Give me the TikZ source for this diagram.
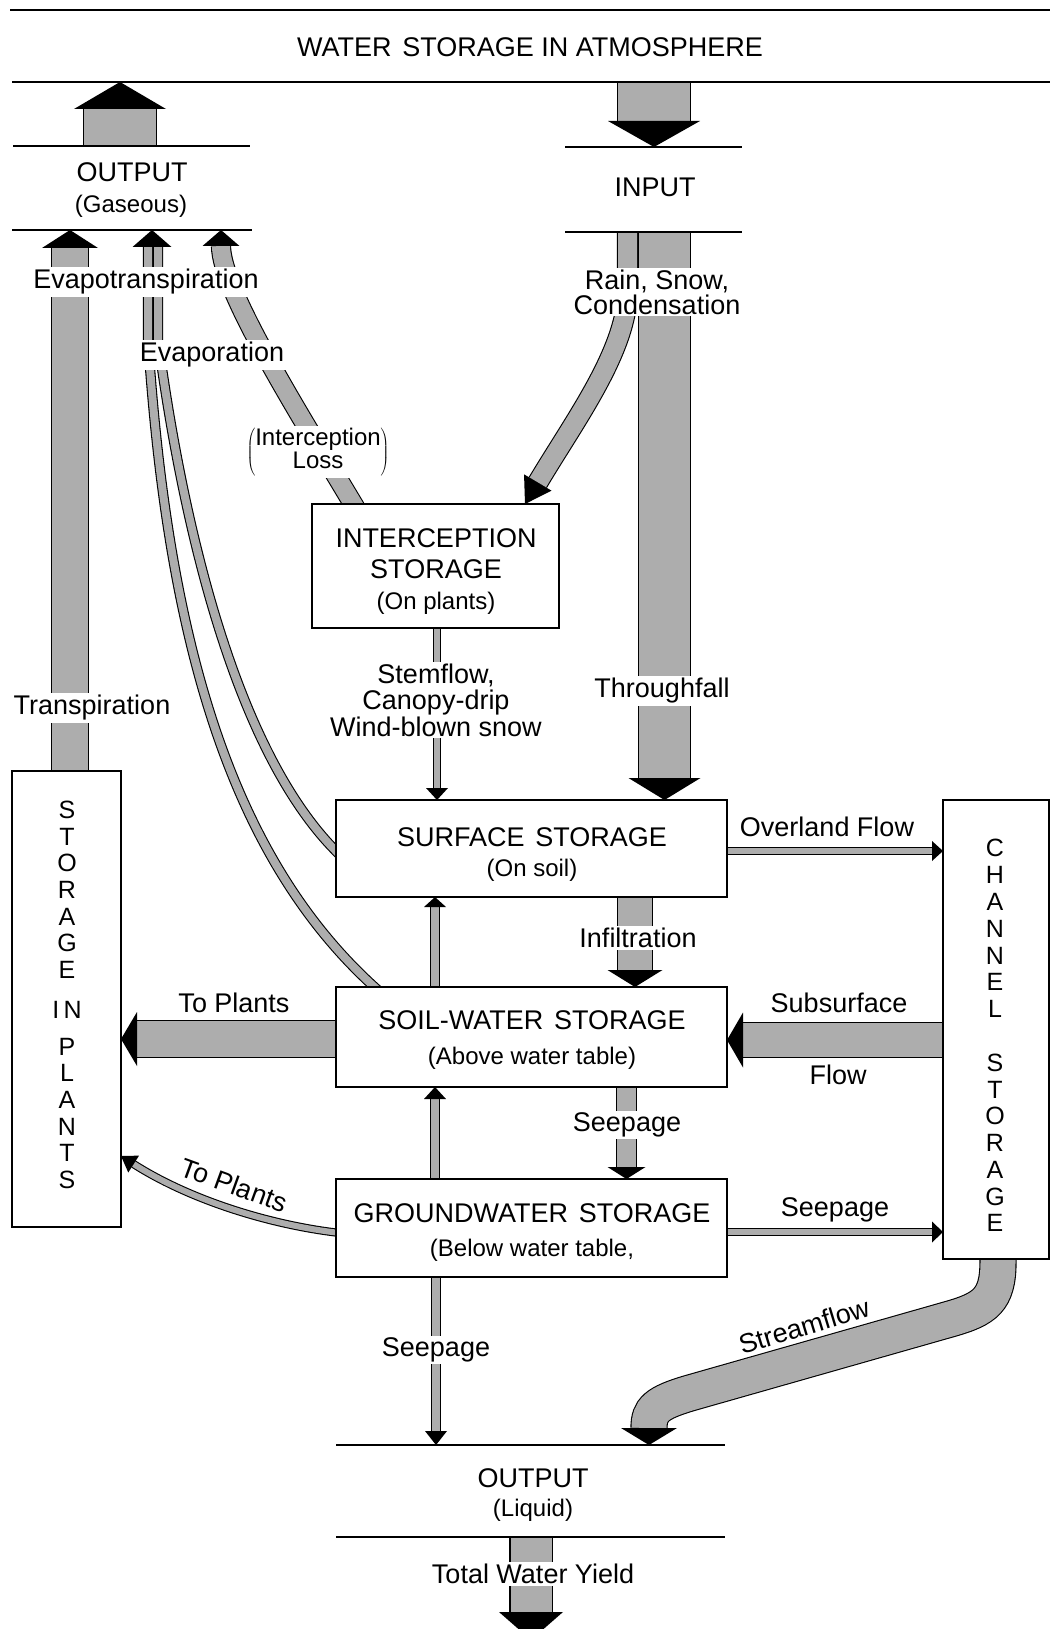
\documentclass[tikz,border=0pt]{standalone}
\usepackage{fontspec}
\setmainfont{Liberation Sans}
\usetikzlibrary{calc,backgrounds}
\definecolor{stip}{gray}{0.68}
\newcommand\fzT{\fontsize{27}{30}\selectfont}
\newcommand\fzL{\fontsize{27}{27}\selectfont}
\newcommand\fzS{\fontsize{24}{27}\selectfont}
\newcommand\fzV{\fontsize{25}{27}\selectfont}
\newcommand\fathead[4]{%
  \path ($(#1)!#3!(#2)$) coordinate (fhb);
  \fill ($(fhb)!#4!90:(#1)$) -- (#1) -- ($(fhb)!#4!-90:(#1)$) -- cycle;}
\begin{document}
\begin{tikzpicture}[x=1pt,y=-1pt,
  band/.style={draw=black,line width=1.1pt,double=stip,double distance=#1},
  hline/.style={line width=2.2pt},
  box/.style={draw,line width=1.5pt,fill=white,inner sep=0pt,outer sep=0pt},
  lbl/.style={font=\fzL,inner sep=1pt},
  cut/.style={lbl,fill=white,inner sep=2pt},
  subt/.style={font=\fzS,inner sep=1pt},
  ttl/.style={font=\fzT,inner sep=1pt},
  vl/.style={font=\fzV,inner sep=0pt}]
\useasboundingbox (0,0) rectangle (1052,1629);
% ---------------- boxes
\node[box,minimum width=247pt,minimum height=124pt] (intc) at (435.5,566) {};
\node[box,minimum width=391pt,minimum height=97pt] (surf) at (531.5,848.5) {};
\node[box,minimum width=391pt,minimum height=100pt] (soil) at (531.5,1037) {};
\node[box,minimum width=391pt,minimum height=98pt] (gw) at (531.5,1228) {};
\node[box,minimum width=109pt,minimum height=456pt] (plants) at (66.5,999) {};
\node[box,minimum width=106pt,minimum height=459pt] (chan) at (996,1029.5) {};
% ---------------- horizontal rules
\coordinate (a1) at (10,10);   \coordinate (a2) at (1050,10);
\coordinate (b1) at (12,82);   \coordinate (b2) at (1050,82);
\coordinate (g1) at (13,146);  \coordinate (g2) at (250,146);
\coordinate (h1) at (12,230);  \coordinate (h2) at (252,230);
\coordinate (i1) at (565,147); \coordinate (i2) at (742,147);
\coordinate (j1) at (565,232); \coordinate (j2) at (742,232);
\coordinate (o1) at (336,1445); \coordinate (o2) at (725,1445);
\coordinate (p1) at (336,1537); \coordinate (p2) at (725,1537);
\foreach \u/\v in {a1/a2,b1/b2,g1/g2,h1/h2,i1/i2,j1/j2,o1/o2,p1/p2}
  \draw[hline] (\u) -- (\v);
% ---------------- texts
\node[ttl] (tit) at (530,47) {WATER\hspace{0.4em}STORAGE IN ATMOSPHERE};
\node[ttl] (outg) at (132,172) {OUTPUT};
\node[subt] (gas) at (131,206) {(Gaseous)};
\node[ttl] (inp) at (655,187) {INPUT};
\node[cut] (et) at (146,282) {Evapotranspiration};
\node[cut] (ev) at (212,355) {Evaporation};
\node[cut,font={\fontsize{24}{23}\selectfont}] (il) at (318,452)
  {$\left(\vcenter{\hbox{\begin{tabular}{@{}c@{}}Interception\\Loss\end{tabular}}}\right)$};
\node[cut,align=center,font={\fontsize{27}{25}\selectfont}] (rain) at (657,292) {Rain, Snow,\\Condensation};
\node[ttl] (ic1) at (436,538) {INTERCEPTION};
\node[ttl] (ic2) at (436,569) {STORAGE};
\node[subt] (ic3) at (436,603) {(On plants)};
\node[cut,align=center,font={\fontsize{27}{26.5}\selectfont}] (stem) at (436,700) {Stemflow,\\Canopy-drip\\Wind-blown snow};
\node[cut] (thr) at (662,691) {Throughfall};
\node[cut] (tra) at (92,708) {Transpiration};
\node[ttl] (sf1) at (532,837) {SURFACE\hspace{0.4em}STORAGE};
\node[subt] (sf2) at (532,870) {(On soil)};
\node[lbl] (ovl) at (827,827) {Overland Flow};
\node[cut] (inf) at (638,938) {Infiltration};
\node[ttl] (sw1) at (532,1020) {SOIL-WATER\hspace{0.4em}STORAGE};
\node[subt] (sw2) at (532,1058) {(Above water table)};
\node[lbl] (tp1) at (234,1003) {To Plants};
\node[lbl] (ssf) at (839,1003) {Subsurface};
\node[lbl] (flw) at (838,1075) {Flow};
\node[cut] (sp1) at (627,1125) {Seepage};
\node[lbl,rotate=-20] (tp2) at (234,1185) {To Plants};
\node[ttl] (gw1) at (532,1213) {GROUNDWATER\hspace{0.4em}STORAGE};
\node[subt] (gw2) at (532,1250) {(Below water table,};
\node[lbl] (sp2) at (835,1210) {Seepage};
\node[cut] (sp3) at (436,1350) {Seepage};
\node[lbl,rotate=17] (str) at (804,1326) {Streamflow};
\node[ttl] (outl) at (533,1478) {OUTPUT};
\node[subt] (liq) at (533,1510) {(Liquid)};
\node[cut] (twy) at (533,1574) {Total Water Yield};
% vertical lettering
\foreach \ltr/\yy in {S/810,T/837,O/863,R/890,A/917,G/943,E/970,P/1047,L/1073,A/1100,N/1127,T/1153,S/1180}
  \node[vl] (pl\yy) at (67,\yy) {\ltr};
\node[vl] (plIN) at (67,1010) {I\,N};
\foreach \ltr/\yy in {C/848,H/875,A/902,N/929,N/956,E/982,L/1009,S/1063,T/1090,O/1116,R/1143,A/1170,G/1197,E/1223}
  \node[vl] (ch\yy) at (995,\yy) {\ltr};
% ---------------- arrow tips
\coordinate (tGas) at (120,0 |- b1);
\coordinate (tIn) at (654,0 |- i1);
\coordinate (tET) at (70,0 |- h1);
\coordinate (tEv) at (152,0 |- h1);
\coordinate (tIL) at (221,0 |- h1);
\coordinate (tRain) at (525,0 |- intc.north);
\coordinate (tThru) at (664.5,0 |- surf.north);
\coordinate (tStem) at (437,0 |- surf.north);
\coordinate (tOver) at (chan.west |- 0,851);
\coordinate (tInf) at (635,0 |- soil.north);
\coordinate (tUp1) at (435,0 |- surf.south);
\coordinate (tUp2) at (435,0 |- soil.south);
\coordinate (tSub) at (soil.east |- 0,1040);
\coordinate (tTP1) at (plants.east |- 0,1039);
\coordinate (tSp1) at (626.5,0 |- gw.north);
\coordinate (tSp2) at (chan.west |- 0,1232);
\coordinate (tTP2) at (plants.east |- 0,1156);
\coordinate (tSp3) at (436,0 |- o1);
\coordinate (tStr) at (649,0 |- o1);
\coordinate (tTot) at (531,1640);
\coordinate (evO) at ($(soil.north west)+(44,5)$);
\coordinate (evI) at ($(surf.west)+(5,7.5)$);
\coordinate (ilS) at ($(intc.north)+(-80,4)$);
% ---------------- bands
\begin{scope}[on background layer]
\fill[white] (0,0) rectangle (1052,1629);
\draw[band=72pt,shorten >=27pt] (120,0 |- g1) -- (tGas);
\draw[band=72pt,shorten >=26pt] (654,0 |- b1) -- (tIn);
\draw[band=36pt,shorten >=18pt] (70,0 |- plants.north) -- (tET);
\draw[band=8pt] ($(tEv)+(-4,17)$) -- (148,340) .. controls (168,640) and (230,860) .. (evO);
\draw[band=8pt] ($(tEv)+(6,17)$) -- (158,340) .. controls (185,540) and (240,760) .. (evI);
\draw[band=18pt] (ilS) .. controls (300,415) and (221,290) .. ($(tIL)+(0,16)$);
\draw[band=19pt] (627.5,0 |- j1) -- (627.5,290) .. controls (627.5,350) and (575,420) .. ($(tRain)!25pt!(575,420)$);
\draw[band=51pt,shorten >=22pt] (664.5,0 |- j1) -- (tThru);
\draw[band=6pt,shorten >=12pt] (437,0 |- intc.south) -- (tStem);
\draw[band=6pt,shorten >=11pt] (surf.east |- 0,851) -- (tOver);
\draw[band=34pt,shorten >=17pt] (635,0 |- surf.south) -- (tInf);
\draw[band=8pt,shorten >=10pt] (435,0 |- soil.north) -- (tUp1);
\draw[band=8pt,shorten >=12pt] (435,0 |- gw.north) -- (tUp2);
\draw[band=34pt,shorten >=16pt] (chan.west |- 0,1040) -- (tSub);
\draw[band=36pt,shorten >=16pt] (soil.west |- 0,1039) -- (tTP1);
\draw[band=19pt,shorten >=12pt] (626.5,0 |- soil.south) -- (tSp1);
\draw[band=6pt,shorten >=11pt] (gw.east |- 0,1232) -- (tSp2);
\draw[band=6pt] ($(gw.west)+(4,5)$) .. controls (270,1225) and (190,1200) .. ($(tTP2)!15pt!(190,1200)$);
\draw[band=8pt,shorten >=14pt] (436,0 |- gw.south) -- (tSp3);
\draw[band=35pt] (998,0 |- chan.south) -- (998,1262) .. controls (998,1300) and (985,1309) .. (950,1319)
   -- (690,1393) .. controls (656,1403) and (649,1410) .. ($(tStr)+(0,-17)$);
\draw[band=41pt,shorten >=28pt] (531,0 |- p1) -- (tTot);
\end{scope}
% ---------------- arrow heads
\fathead{tGas}{120,200}{27pt}{46pt}
\fathead{tIn}{654,0}{26pt}{46pt}
\fathead{tET}{70,500}{18pt}{28pt}
\fathead{tEv}{152,500}{17pt}{19.5pt}
\fathead{tIL}{221,500}{16pt}{18.5pt}
\fathead{tRain}{575,420}{25pt}{16pt}
\fathead{tThru}{664.5,300}{22pt}{36pt}
\fathead{tStem}{437,600}{12pt}{11pt}
\fathead{tOver}{700,851}{11pt}{10pt}
\fathead{tInf}{635,800}{17pt}{27.5pt}
\fathead{tUp1}{435,1000}{10pt}{11pt}
\fathead{tUp2}{435,1200}{12pt}{11pt}
\fathead{tSub}{900,1040}{16pt}{27.5pt}
\fathead{tTP1}{300,1039}{16pt}{27pt}
\fathead{tSp1}{626.5,1000}{12pt}{19pt}
\fathead{tSp2}{700,1232}{11pt}{10.5pt}
\fathead{tTP2}{190,1200}{15pt}{10pt}
\fathead{tSp3}{436,1300}{14pt}{11pt}
\fathead{tStr}{649,1300}{17pt}{28pt}
\fathead{tTot}{531,1500}{28pt}{32pt}
\end{tikzpicture}
\end{document}
